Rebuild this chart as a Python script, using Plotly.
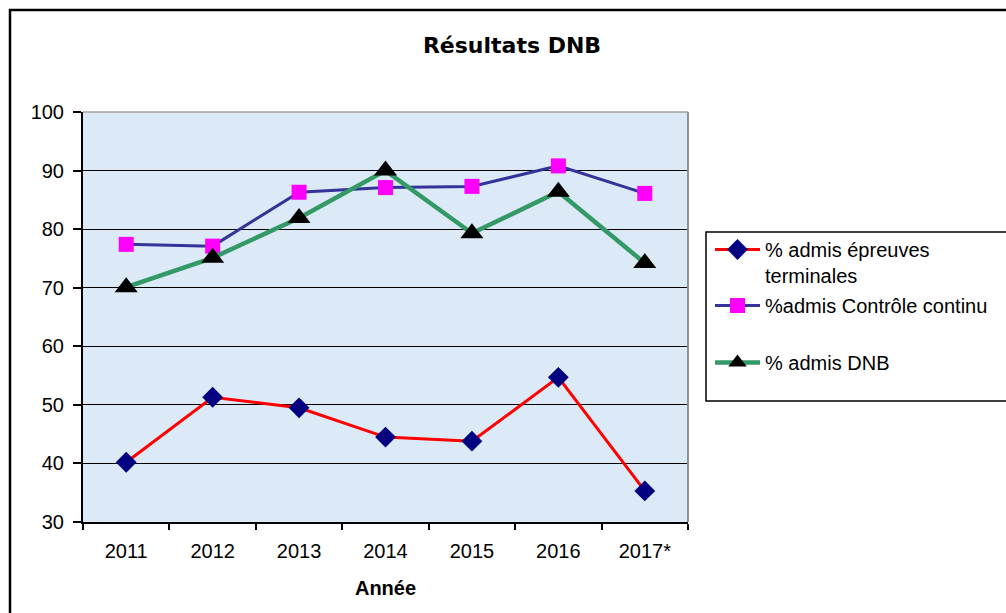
import plotly.graph_objects as go

years = ["2011", "2012", "2013", "2014", "2015", "2016", "2017*"]
epreuves = [40.2, 51.3, 49.5, 44.5, 43.8, 54.7, 35.3]
controle = [77.4, 77.1, 86.3, 87.1, 87.3, 90.8, 86.1]
dnb = [70.1, 75.1, 81.9, 90.0, 79.3, 86.4, 74.2]
names = ["% admis épreuves<br>terminales", "%admis Contrôle continu", "% admis DNB"]

W, H = 1006, 613
L, R, T, B = 83, 688, 112, 522
pw, ph = R - L, B - T

def px(x):
    return (x - L) / pw

def py(y):
    return (B - y) / ph

FONT = "Liberation Sans, Arial, sans-serif"

fig = go.Figure()
fig.add_trace(go.Scatter(
    x=years, y=epreuves, name=names[0], mode="lines+markers", legend="legend",
    line=dict(color="#FF0000", width=3),
    marker=dict(symbol="diamond", size=16, color="#000080")))
fig.add_trace(go.Scatter(
    x=years, y=controle, name=names[1], mode="lines+markers", legend="legend2",
    line=dict(color="#333399", width=3),
    marker=dict(symbol="square", size=15, color="#FF00FF")))
fig.add_trace(go.Scatter(
    x=years, y=dnb, name=names[2], mode="lines+markers", legend="legend3",
    line=dict(color="#339966", width=4.5),
    marker=dict(symbol="triangle-up", size=20, color="#000000")))

shapes = [
    # outer chart border
    dict(type="rect", xref="paper", yref="paper", x0=px(10), x1=px(1015), y0=py(10), y1=py(625),
         line=dict(color="#000000", width=2.5), fillcolor="rgba(0,0,0,0)", layer="below"),
    # legend box
    dict(type="rect", xref="paper", yref="paper", x0=px(706), x1=px(1015), y0=py(232), y1=py(401),
         line=dict(color="#000000", width=1.5), fillcolor="#FFFFFF", layer="above"),
    # plot area top & right border (grey)
    dict(type="line", xref="paper", yref="paper", x0=0, x1=1, y0=1, y1=1,
         line=dict(color="#A0A0A0", width=1.5), layer="above"),
    dict(type="line", xref="paper", yref="paper", x0=1, x1=1, y0=0, y1=1,
         line=dict(color="#909090", width=2), layer="above"),
]

leg_common = dict(xanchor="left", yanchor="top", bgcolor="rgba(0,0,0,0)", borderwidth=0,
                  valign="top", itemwidth=45, font=dict(family=FONT, size=20, color="#000000"))

fig.update_layout(
    width=W, height=H,
    margin=dict(l=L, r=W - R, t=T, b=H - B, autoexpand=False),
    paper_bgcolor="#FFFFFF",
    plot_bgcolor="#DCE9F6",
    font=dict(family=FONT, size=20, color="#000000"),
    title=dict(text="<b>Résultats DNB</b>", x=512 / W, xanchor="center", xref="container",
               y=1 - 45 / H, yanchor="middle", yref="container",
               font=dict(family="DejaVu Sans, sans-serif", size=22, color="#000000")),
    xaxis=dict(
        type="category", range=[-0.5, 6.5], tickson="boundaries",
        ticks="outside", ticklen=6, tickwidth=1.5, tickcolor="#000000",
        showline=True, linecolor="#000000", linewidth=2,
        showgrid=False, zeroline=False, ticklabelstandoff=10,
        tickfont=dict(family=FONT, size=20),
        title=dict(text="<b>Année</b>", standoff=20, font=dict(family=FONT, size=20)),
        fixedrange=True),
    yaxis=dict(
        range=[30, 100], tickmode="array", tickvals=[30, 40, 50, 60, 70, 80, 90, 100],
        ticks="outside", ticklen=8, tickwidth=1.5, tickcolor="#000000",
        showline=True, linecolor="#000000", linewidth=2,
        showgrid=True, gridcolor="#000000", gridwidth=1.3, zeroline=False,
        tickfont=dict(family=FONT, size=20), ticklabelstandoff=5,
        fixedrange=True),
    showlegend=True,
    legend=dict(x=px(710), y=py(230), **leg_common),
    legend2=dict(x=px(710), y=py(286), **leg_common),
    legend3=dict(x=px(710), y=py(343), **leg_common),
    shapes=shapes,
)

fig.write_html("out.html", config={"displayModeBar": False},
               post_script="document.body.style.margin='0';document.body.style.overflow='hidden';")
